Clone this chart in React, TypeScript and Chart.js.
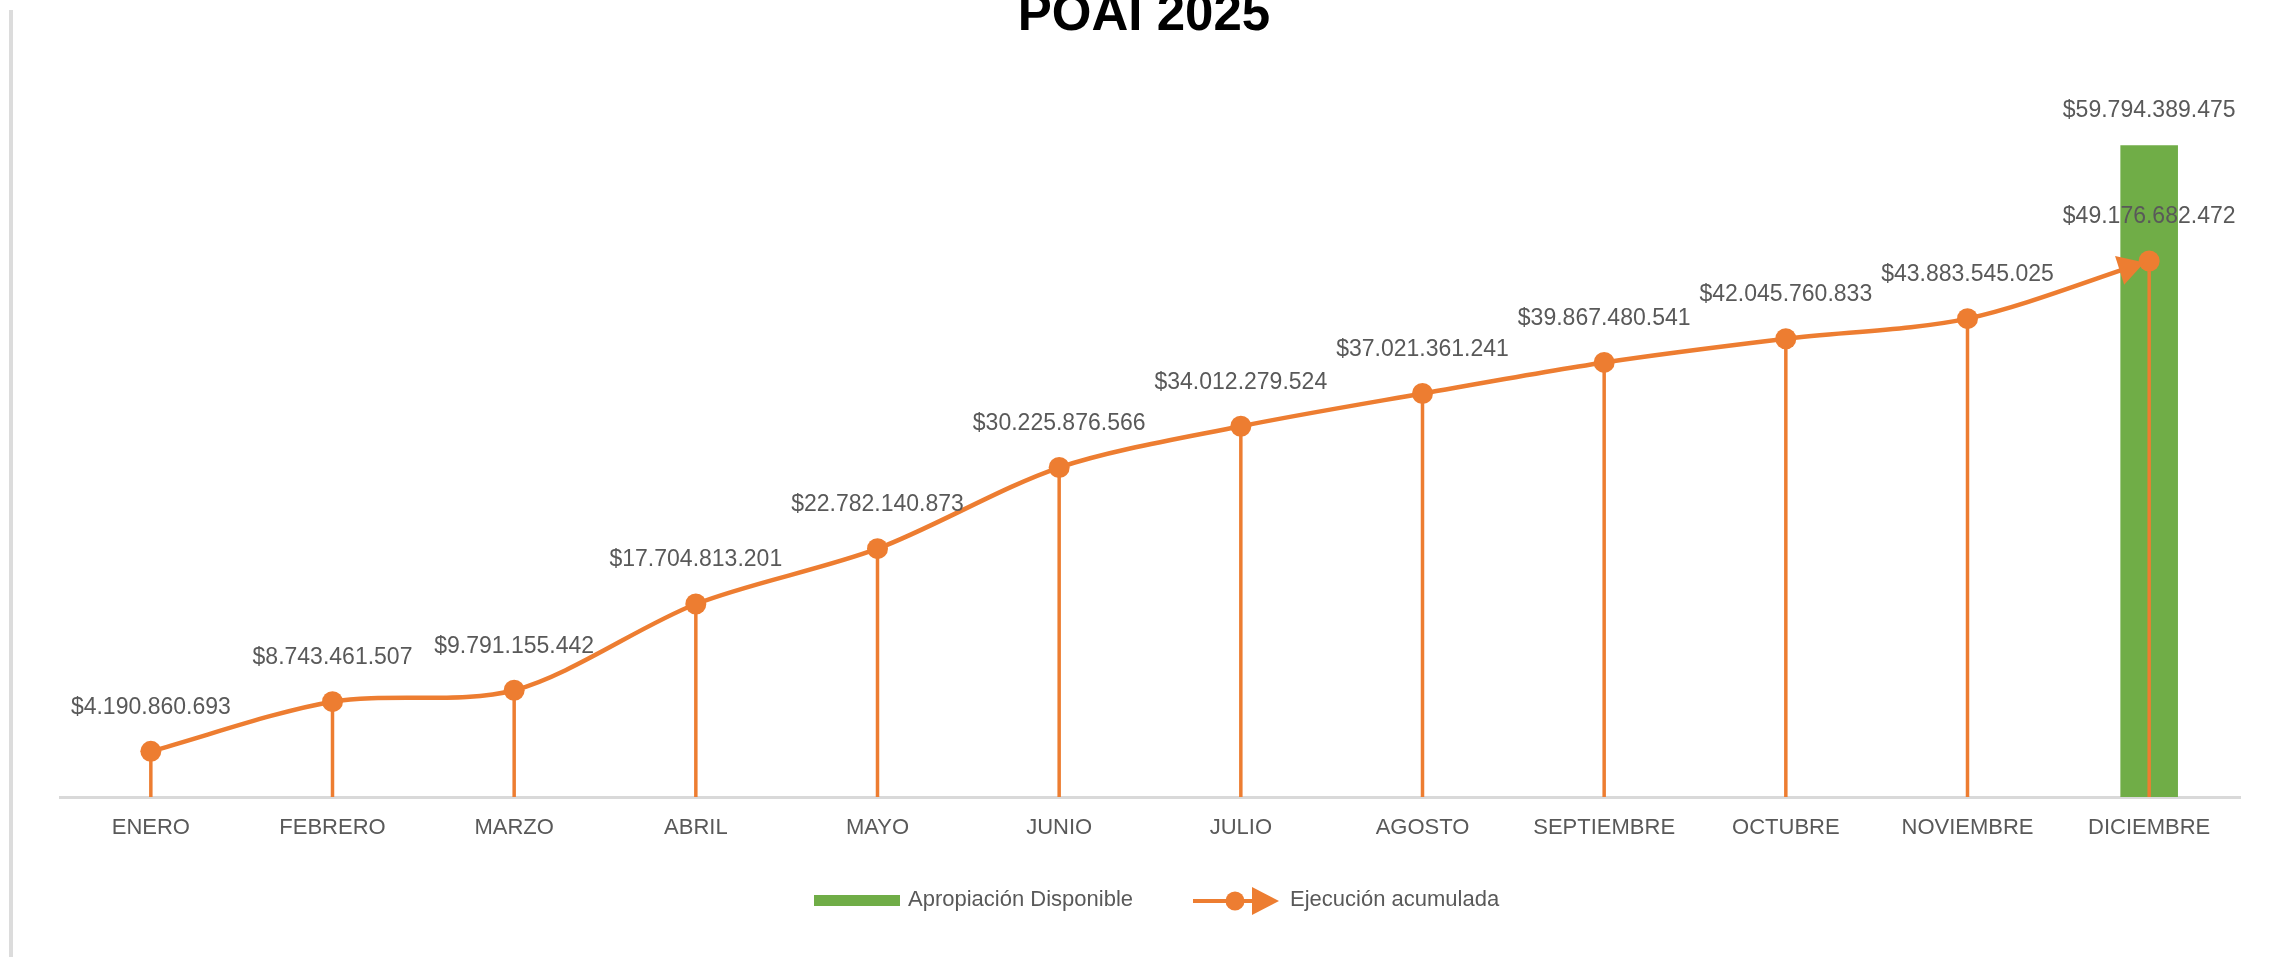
import React, { useEffect, useRef } from "react";
import { Chart, registerables } from "chart.js";

Chart.register(...registerables);

const chartTitle = "POAI 2025";
const categories = [
  "ENERO", "FEBRERO", "MARZO", "ABRIL", "MAYO", "JUNIO",
  "JULIO", "AGOSTO", "SEPTIEMBRE", "OCTUBRE", "NOVIEMBRE", "DICIEMBRE",
];
const ejecucionAcumulada = [
  4190860693, 8743461507, 9791155442, 17704813201, 22782140873, 30225876566,
  34012279524, 37021361241, 39867480541, 42045760833, 43883545025, 49176682472,
];
const apropiacionDisponible = [
  null, null, null, null, null, null, null, null, null, null, null, 59794389475,
];
const seriesNames = ["Apropiación Disponible", "Ejecución acumulada"];

const ORANGE = "#ED7D31";
const GREEN = "#70AD47";
const TEXT = "#595959";
const FONT = '"Liberation Sans", Arial, sans-serif';

const fmt = (v: number) =>
  "$" + Math.round(v).toString().replace(/\B(?=(\d{3})+(?!\d))/g, ".");

const decorPlugin = {
  id: "decor",
  beforeDraw(chart: any) {
    const ctx = chart.ctx;
    ctx.save();
    ctx.fillStyle = "#ffffff";
    ctx.fillRect(0, 0, chart.width, chart.height);
    ctx.fillStyle = "#DCDCDC";
    ctx.fillRect(9, 10, 4, chart.height - 10);
    ctx.fillStyle = "#000000";
    ctx.font = `bold 51px ${FONT}`;
    ctx.textAlign = "center";
    ctx.textBaseline = "alphabetic";
    ctx.fillText(chartTitle, 1144, 30);
    ctx.restore();
  },
  beforeDatasetDraw(chart: any, args: any) {
    if (args.index !== 1) return;
    const ctx = chart.ctx;
    const meta = chart.getDatasetMeta(1);
    const bottom = chart.chartArea.bottom;
    ctx.save();
    ctx.strokeStyle = ORANGE;
    ctx.lineWidth = 3.5;
    meta.data.forEach((pt: any) => {
      ctx.beginPath();
      ctx.moveTo(pt.x, pt.y);
      ctx.lineTo(pt.x, bottom);
      ctx.stroke();
    });
    ctx.restore();
  },
  afterDatasetsDraw(chart: any) {
    const ctx = chart.ctx;
    const lineMeta = chart.getDatasetMeta(1);
    const barMeta = chart.getDatasetMeta(0);
    ctx.save();
    // arrow head at end of line
    const last = lineMeta.data[lineMeta.data.length - 1];
    let dx = last.x - last.cp1x;
    let dy = last.y - last.cp1y;
    const len = Math.hypot(dx, dy) || 1;
    dx /= len;
    dy /= len;
    const tipX = last.x - dx * 5;
    const tipY = last.y - dy * 5;
    const baseX = tipX - dx * 26;
    const baseY = tipY - dy * 26;
    const nx = -dy, ny = dx;
    ctx.fillStyle = ORANGE;
    ctx.beginPath();
    ctx.moveTo(tipX, tipY);
    ctx.lineTo(baseX + nx * 15, baseY + ny * 15);
    ctx.lineTo(baseX - nx * 15, baseY - ny * 15);
    ctx.closePath();
    ctx.fill();

    // data labels
    ctx.fillStyle = TEXT;
    ctx.font = `23px ${FONT}`;
    ctx.textAlign = "center";
    ctx.textBaseline = "middle";
    lineMeta.data.forEach((pt: any, i: number) => {
      ctx.fillText(fmt(ejecucionAcumulada[i]), pt.x, pt.y - 44);
    });
    barMeta.data.forEach((bar: any, i: number) => {
      const v = apropiacionDisponible[i];
      if (v == null) return;
      ctx.fillText(fmt(v), bar.x, bar.y - 35);
    });

    // legend
    const ly = 901;
    ctx.fillStyle = GREEN;
    ctx.fillRect(814, ly - 6, 86, 11);
    ctx.fillStyle = TEXT;
    ctx.font = `22px ${FONT}`;
    ctx.textAlign = "left";
    ctx.fillText(seriesNames[0], 908, ly - 1);
    ctx.strokeStyle = ORANGE;
    ctx.lineWidth = 4;
    ctx.beginPath();
    ctx.moveTo(1193, ly);
    ctx.lineTo(1258, ly);
    ctx.stroke();
    ctx.fillStyle = ORANGE;
    ctx.beginPath();
    ctx.arc(1235, ly, 9.5, 0, Math.PI * 2);
    ctx.fill();
    ctx.beginPath();
    ctx.moveTo(1279, ly);
    ctx.lineTo(1252, ly - 14);
    ctx.lineTo(1252, ly + 14);
    ctx.closePath();
    ctx.fill();
    ctx.fillStyle = TEXT;
    ctx.fillText(seriesNames[1], 1290, ly - 1);
    ctx.restore();
  },
};

export default function App() {
  const canvasRef = useRef<HTMLCanvasElement | null>(null);

  useEffect(() => {
    if (!canvasRef.current) return;
    const chart = new Chart(canvasRef.current, {
      type: "bar",
      data: {
        labels: categories,
        datasets: [
          {
            type: "bar",
            label: seriesNames[0],
            data: apropiacionDisponible as any,
            backgroundColor: GREEN,
            borderWidth: 0,
            barPercentage: 0.317,
            categoryPercentage: 1,
            order: 2,
          },
          {
            type: "line",
            label: seriesNames[1],
            data: ejecucionAcumulada,
            borderColor: ORANGE,
            backgroundColor: ORANGE,
            borderWidth: 4.5,
            tension: 0.3,
            pointRadius: 10.5,
            pointHoverRadius: 10.5,
            pointBackgroundColor: ORANGE,
            pointBorderWidth: 0,
            fill: false,
            order: 1,
          } as any,
        ],
      },
      options: {
        responsive: true,
        maintainAspectRatio: false,
        animation: false,
        layout: { padding: { left: 60, right: 30, top: 34, bottom: 0 } },
        plugins: {
          legend: { display: false },
          title: { display: false },
          tooltip: { enabled: false },
        },
        scales: {
          x: {
            offset: true,
            grid: { display: false },
            border: { display: true, color: "#D9D9D9", width: 3 },
            ticks: {
              color: TEXT,
              font: { size: 22, family: FONT },
              padding: 10,
              maxRotation: 0,
              autoSkip: false,
            },
            afterFit: (s: any) => {
              s.height = 160;
            },
          },
          y: { display: false, min: 0, max: 70e9 },
        },
      },
      plugins: [decorPlugin],
    });
    return () => chart.destroy();
  }, []);

  return (
    <div style={{ position: "fixed", left: 0, top: 0, width: 2270, height: 957, background: "#fff" }}>
      <canvas ref={canvasRef} />
    </div>
  );
}
